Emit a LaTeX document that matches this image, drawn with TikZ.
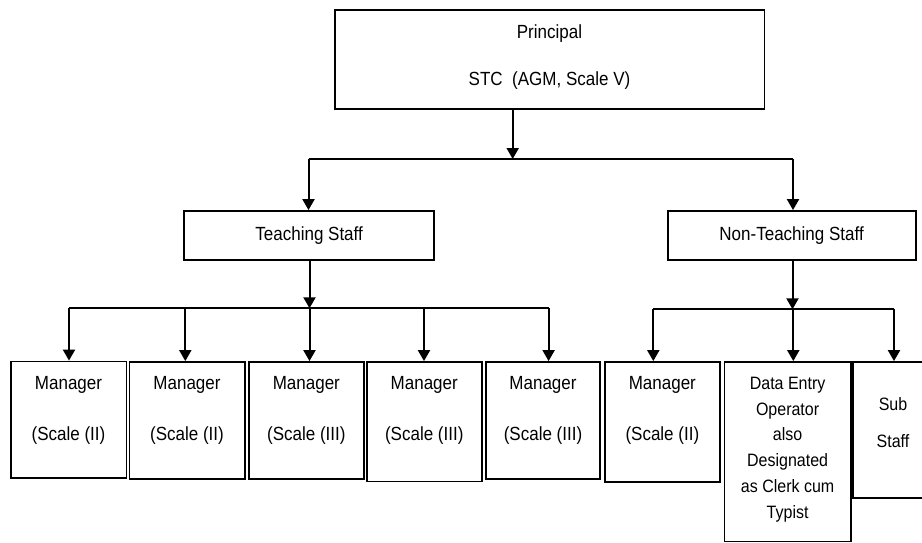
\documentclass[tikz,border=0pt]{standalone}
\usepackage{fontspec}
\setmainfont{Liberation Sans}
\usetikzlibrary{arrows.meta}
% slightly tall lettering
\newcommand{\tl}[1]{\scalebox{1}[1.12]{#1}}
\tikzset{
  box/.style={draw, line width=1.8pt, inner sep=0pt, rectangle},
  txt/.style={anchor=base, inner sep=0pt, font=\fontsize{17}{20}\selectfont},
  smalltxt/.style={anchor=base, inner sep=0pt, font=\fontsize{16}{19}\selectfont},
  conn/.style={line width=2pt},
  arr/.style={line width=2pt, -{Triangle[length=11pt,width=12pt]}}
}
\begin{document}
\begin{tikzpicture}[x=1pt,y=-1pt]
\useasboundingbox (0,0) rectangle (922,543);
\begin{scope}
\clip (0,0) rectangle (922,543);

% boxes
\node[box, minimum width=429.8pt, minimum height=99.7pt] (P) at (549.5,59.55) {};
\node[box, minimum width=249.7pt, minimum height=49pt] (T) at (309.15,235.5) {};
\node[box, minimum width=248pt, minimum height=49pt] (N) at (791.6,235.5) {};
\node[box, minimum width=115.8pt, minimum height=116.5pt] (M1) at (68.5,419.75) {};
\node[box, minimum width=115.2pt, minimum height=117pt] (M2) at (187,420.5) {};
\node[box, minimum width=115.3pt, minimum height=117pt] (M3) at (306.35,420.5) {};
\node[box, minimum width=114.7pt, minimum height=119.4pt] (M4) at (424.25,421.7) {};
\node[box, minimum width=114.6pt, minimum height=117pt] (M5) at (543,420.5) {};
\node[box, minimum width=114.7pt, minimum height=120pt] (M6) at (662.35,422) {};
\node[box, minimum width=126.4pt, minimum height=179.5pt] (DE) at (787.6,451.75) {};
\node[box, minimum width=79.8pt, minimum height=135.6pt] (SS) at (893.1,429.8) {};

% texts
\node[txt] (Pa) at (549.5,39) {\tl{Principal}};
\node[txt] (Pb) at (549.5,86) {\tl{STC\ \ (AGM, Scale V)}};
\node[txt] (Ta) at (309.15,240) {\tl{Teaching Staff}};
\node[txt] (Na) at (791.6,240) {\tl{Non-Teaching Staff}};
\foreach \n/\x/\s in {1/68.5/II, 2/187/II, 3/306.35/III, 4/424.25/III, 5/543/III, 6/662.35/II}{
  \node[txt] (M\n a) at (\x,389) {\tl{Manager}};
  \node[txt] (M\n b) at (\x,440.5) {\tl{(Scale (\s)}};
}
\node[smalltxt] (D1) at (787.6,389.3) {\tl{Data Entry}};
\node[smalltxt] (D2) at (787.6,415.1) {\tl{Operator}};
\node[smalltxt] (D3) at (787.6,440.9) {\tl{also}};
\node[smalltxt] (D4) at (787.6,466.7) {\tl{Designated}};
\node[smalltxt] (D5) at (787.6,492.5) {\tl{as Clerk cum}};
\node[smalltxt] (D6) at (787.6,518.3) {\tl{Typist}};
\node[smalltxt] (S1) at (893,410) {\tl{Sub}};
\node[smalltxt] (S2) at (893,447.3) {\tl{Staff}};

% junction points
\coordinate (c0) at (512.7,159);
\coordinate (h0l) at (308.5,159);
\coordinate (h0r) at (793,159);
\coordinate (c1) at (309.5,308.3);
\coordinate (h1l) at (69,308.3);
\coordinate (h1r) at (548.6,308.3);
\coordinate (c2) at (792.5,309.3);
\coordinate (h2l) at (653.3,309.3);
\coordinate (h2r) at (894,309.3);
\coordinate (a2) at (185.3,308.3);
\coordinate (a4) at (424,308.3);
\coordinate (b2) at (793.3,309.3);

% principal to staff groups
\draw[arr] (P.south -| c0) -- (c0);
\draw[conn] (h0l) -- (h0r);
\draw[arr] (h0l) -- (T.north -| h0l);
\draw[arr] (h0r) -- (N.north -| h0r);

% teaching staff branch
\draw[arr] (T.south -| c1) -- (c1);
\draw[conn] (h1l) -- (h1r);
\draw[arr] (h1l) -- (M1.north -| h1l);
\draw[arr] (a2) -- (M2.north -| a2);
\draw[arr] (c1) -- (M3.north -| c1);
\draw[arr] (a4) -- (M4.north -| a4);
\draw[arr] (h1r) -- (M5.north -| h1r);

% non-teaching staff branch
\draw[arr] (N.south -| c2) -- (c2);
\draw[conn] (h2l) -- (h2r);
\draw[arr] (h2l) -- (M6.north -| h2l);
\draw[arr] (b2) -- (DE.north -| b2);
\draw[arr] (h2r) -- (SS.north -| h2r);
\end{scope}
\end{tikzpicture}
\end{document}
